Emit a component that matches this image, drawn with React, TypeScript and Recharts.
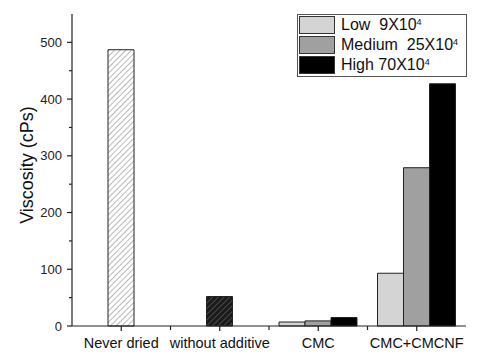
import React from 'react';
import {
    BarChart,
    Bar,
    XAxis,
    YAxis,
    Legend,
    Cell
} from 'recharts';

// Datos
const categories = ['Never dried', 'without additive', 'CMC', 'CMC+CMCNF'];
const lowValues = [null, null, 7, 93];
const mediumValues = [487, 52, 9, 279];
const highValues = [null, null, 15, 427];

const seriesNames = ['Low  9X10', 'Medium  25X10', 'High 70X10'];
const seriesExponents = ['4', '4', '4'];
const yTicks = [0, 50, 100, 150, 200, 250, 300, 350, 400, 450, 500];

const SERIES_COLORS = ['#d4d4d4', '#a0a0a0', '#000000'];
const FONT = '"Liberation Sans", Arial, sans-serif';

const WIDTH = 484;
const HEIGHT = 360;
const MARGIN = { top: 14, right: 18, bottom: 0, left: 0 };
const Y_AXIS_W = 72;
const X_AXIS_H = 34;
const PLOT_W = WIDTH - MARGIN.left - MARGIN.right - Y_AXIS_W;

const data = categories.map((name, i) => ({
    name,
    low: lowValues[i],
    medium: mediumValues[i],
    high: highValues[i],
}));

const XTick = (props: any) => {
    const { x, y, payload, index } = props;
    const half = PLOT_W / categories.length / 2;
    return (
        <g>
            <line x1={x} y1={y} x2={x} y2={y + 5} stroke="#222" strokeWidth={1.2} />
            {index < categories.length - 1 && (
                <line x1={x + half} y1={y} x2={x + half} y2={y + 4} stroke="#222" strokeWidth={1.2} />
            )}
            <text x={x} y={y + 22} textAnchor="middle" fontSize={14.5} fontFamily={FONT} fill="#111">
                {payload.value}
            </text>
        </g>
    );
};

const YTick = (props: any) => {
    const { x, y, payload } = props;
    const major = payload.value % 100 === 0;
    return (
        <g>
            <line x1={x - (major ? 5 : 3)} y1={y} x2={x} y2={y} stroke="#222" strokeWidth={1.2} />
            {major && (
                <text x={x - 10} y={y} dy="0.36em" textAnchor="end" fontSize={13} fontFamily={FONT} fill="#222">
                    {payload.value}
                </text>
            )}
        </g>
    );
};

const YLabel = (props: any) => {
    const { viewBox } = props;
    const cx = viewBox.x + 27;
    const cy = viewBox.y + viewBox.height / 2 - 5;
    return (
        <text
            x={cx}
            y={cy}
            transform={`rotate(-90, ${cx}, ${cy})`}
            textAnchor="middle"
            dominantBaseline="central"
            fontSize={18}
            fontFamily={FONT}
            fill="#111"
        >
            Viscosity (cPs)
        </text>
    );
};

const renderLegend = () => (
    <div
        style={{
            border: '1px solid #555',
            background: '#fff',
            boxSizing: 'border-box',
            height: 63,
            padding: '1px 1px',
            fontFamily: FONT,
        }}
    >
        {seriesNames.map((name, i) => (
            <div key={name} style={{ display: 'flex', alignItems: 'center', height: 18, marginBottom: 2 }}>
                <div
                    style={{
                        width: 36,
                        height: 18,
                        boxSizing: 'border-box',
                        border: '1px solid #333',
                        background: SERIES_COLORS[i],
                    }}
                />
                <span style={{ marginLeft: 6, fontSize: 16, color: '#111', whiteSpace: 'pre', lineHeight: '18px' }}>
                    {name}
                    <sup style={{ fontSize: 9, verticalAlign: 'top', lineHeight: '12px' }}>{seriesExponents[i]}</sup>
                </span>
            </div>
        ))}
    </div>
);

const App: React.FC = () => {
    return (
        <div style={{ position: 'absolute', left: 0, top: 0, background: '#fff' }}>
            <BarChart
                width={WIDTH}
                height={HEIGHT}
                data={data}
                margin={MARGIN}
                barCategoryGap={10}
                barGap={0}
            >
                <defs>
                    <pattern id="hatchLight" width="4" height="4" patternUnits="userSpaceOnUse" patternTransform="rotate(45)">
                        <rect width="4" height="4" fill="#fff" />
                        <line x1="0" y1="0" x2="0" y2="4" stroke="#8a8a8a" strokeWidth={1.2} />
                    </pattern>
                    <pattern id="hatchDark" width="4" height="4" patternUnits="userSpaceOnUse" patternTransform="rotate(45)">
                        <rect width="4" height="4" fill="#1a1a1a" />
                        <line x1="0" y1="0" x2="0" y2="4" stroke="#7a7a7a" strokeWidth={1} />
                    </pattern>
                </defs>
                <XAxis
                    dataKey="name"
                    height={X_AXIS_H}
                    axisLine={{ stroke: '#222', strokeWidth: 1.2 }}
                    tickLine={false}
                    tickSize={0}
                    tickMargin={0}
                    tick={<XTick />}
                    interval={0}
                />
                <XAxis
                    xAxisId="top"
                    orientation="top"
                    dataKey="name"
                    height={0}
                    axisLine={{ stroke: '#333', strokeWidth: 1.5 }}
                    tick={false}
                    tickLine={false}
                />
                <YAxis
                    width={Y_AXIS_W}
                    domain={[0, 550]}
                    ticks={yTicks}
                    interval={0}
                    axisLine={{ stroke: '#222', strokeWidth: 1.2 }}
                    tickLine={false}
                    tickSize={0}
                    tickMargin={0}
                    tick={<YTick />}
                    label={<YLabel />}
                />
                <YAxis
                    yAxisId="right"
                    orientation="right"
                    width={0}
                    domain={[0, 550]}
                    axisLine={{ stroke: '#333', strokeWidth: 1.5 }}
                    tick={false}
                    tickLine={false}
                />
                <Legend
                    layout="vertical"
                    align="center"
                    verticalAlign="middle"
                    wrapperStyle={{ top: 14, left: 297, width: 170 }}
                    content={renderLegend}
                />
                <Bar dataKey="low" name={seriesNames[0]} fill={SERIES_COLORS[0]} stroke="#222" strokeWidth={1} isAnimationActive={false} />
                <Bar dataKey="medium" name={seriesNames[1]} fill={SERIES_COLORS[1]} stroke="#222" strokeWidth={1} isAnimationActive={false}>
                    {data.map((_, index) => (
                        <Cell
                            key={`cell-${index}`}
                            fill={index === 0 ? 'url(#hatchLight)' : index === 1 ? 'url(#hatchDark)' : SERIES_COLORS[1]}
                        />
                    ))}
                </Bar>
                <Bar dataKey="high" name={seriesNames[2]} fill={SERIES_COLORS[2]} stroke="#222" strokeWidth={1} isAnimationActive={false} />
            </BarChart>
        </div>
    );
};

export default App;
